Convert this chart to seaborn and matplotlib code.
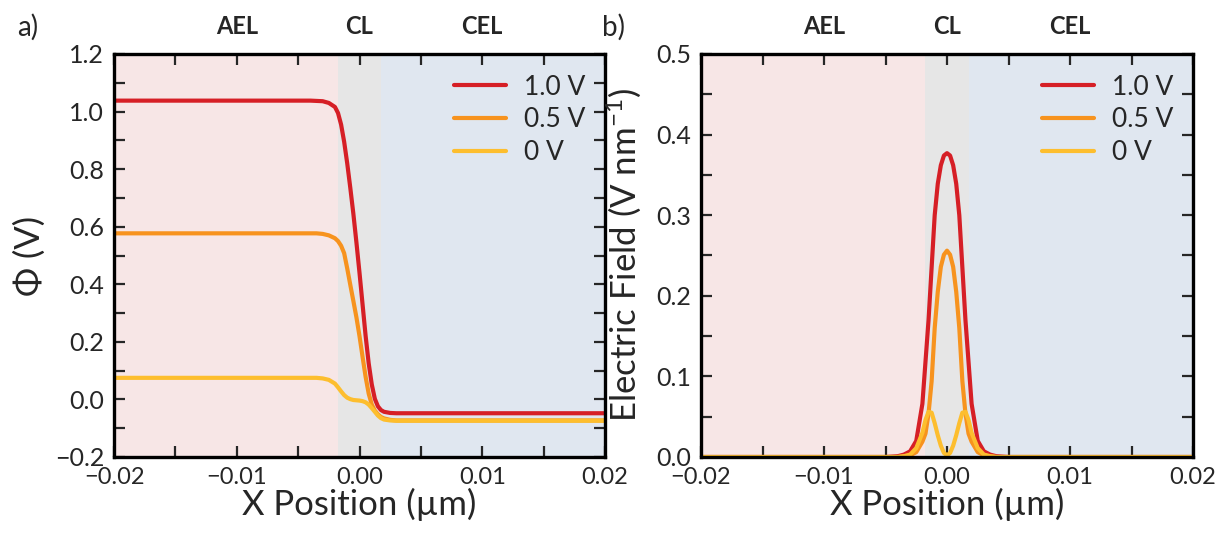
import numpy as np
import pandas as pd
import seaborn as sns
import matplotlib
matplotlib.use("Agg")
import matplotlib.pyplot as plt
from matplotlib.ticker import MultipleLocator, FuncFormatter
import matplotlib.transforms as mtransforms

# ---------------- data ----------------
x_um = [-0.02, -0.005, -0.004, -0.0035, -0.003, -0.0025, -0.002, -0.00175,
        -0.0015, -0.00125, -0.001, -0.00075, -0.0005, -0.00025, 0.0,
        0.00025, 0.0005, 0.00075, 0.001, 0.00125, 0.0015, 0.00175, 0.002,
        0.0025, 0.003, 0.0035, 0.004, 0.005, 0.02]

bias_labels = ["1.0 V", "0.5 V", "0 V"]

phi_10 = [1.038, 1.038, 1.038, 1.037, 1.036, 1.030, 1.016, 0.995,
          0.955, 0.895, 0.820, 0.735, 0.645, 0.545, 0.440,
          0.330, 0.220, 0.125, 0.052, 0.002, -0.024, -0.037, -0.043,
          -0.047, -0.048, -0.048, -0.048, -0.048, -0.048]
phi_05 = [0.577, 0.577, 0.577, 0.577, 0.575, 0.570, 0.560, 0.550,
          0.534, 0.508, 0.455, 0.398, 0.342, 0.285, 0.220,
          0.148, 0.078, 0.020, -0.018, -0.039, -0.052, -0.061, -0.066,
          -0.071, -0.073, -0.073, -0.073, -0.073, -0.073]
phi_00 = [0.075, 0.075, 0.075, 0.075, 0.073, 0.068, 0.055, 0.042,
          0.028, 0.015, 0.006, 0.001, -0.002, -0.003, -0.004,
          -0.006, -0.010, -0.018, -0.030, -0.043, -0.056, -0.065, -0.070,
          -0.073, -0.074, -0.074, -0.074, -0.074, -0.074]

ef_10 = [0.0, 0.0, 0.001, 0.003, 0.007, 0.020, 0.066, 0.118,
         0.170, 0.235, 0.300, 0.339, 0.362, 0.374, 0.377,
         0.374, 0.362, 0.339, 0.300, 0.235, 0.170, 0.118, 0.066,
         0.020, 0.007, 0.003, 0.001, 0.0, 0.0]
ef_05 = [0.0, 0.0, 0.0, 0.001, 0.002, 0.006, 0.019, 0.029,
         0.054, 0.094, 0.160, 0.205, 0.236, 0.251, 0.256,
         0.251, 0.236, 0.205, 0.160, 0.094, 0.054, 0.029, 0.019,
         0.006, 0.002, 0.001, 0.0, 0.0, 0.0]
ef_00 = [0.0, 0.0, 0.0, 0.001, 0.003, 0.011, 0.030, 0.046,
         0.056, 0.055, 0.042, 0.027, 0.014, 0.005, 0.002,
         0.005, 0.014, 0.027, 0.042, 0.055, 0.056, 0.046, 0.030,
         0.011, 0.003, 0.001, 0.0, 0.0, 0.0]

region_names = ["AEL", "CL", "CEL"]
region_label_x = [-0.01, 0.0, 0.01]
region_edges = [-0.02, -0.00175, 0.00175, 0.02]

# ---------------- styling ----------------
colors = ["#D61F26", "#F7931E", "#FDBE2E"]
region_colors = ["#F7E6E6", "#E6E6E6", "#E0E7F0"]

sns.set_style("ticks")
plt.rcParams["font.family"] = ["Lato", "DejaVu Sans"]
plt.rcParams["mathtext.fontset"] = "custom"
plt.rcParams["mathtext.rm"] = "Lato"
plt.rcParams["mathtext.it"] = "Lato:italic"
plt.rcParams["axes.unicode_minus"] = True


def fmt(decimals):
    def f(v, pos):
        if abs(v) < 1e-12:
            v = 0.0
        return f"{v:.{decimals}f}".replace("-", "\u2212")
    return FuncFormatter(f)


rows = []
for lab, p, e in zip(bias_labels, [phi_10, phi_05, phi_00], [ef_10, ef_05, ef_00]):
    for xv, pv, ev in zip(x_um, p, e):
        rows.append({"x": xv, "phi": pv, "ef": ev, "bias": lab})
df = pd.DataFrame(rows)

fig = plt.figure(figsize=(12.17, 5.35), dpi=100)
ax1 = fig.add_axes([114 / 1217, 1 - 457 / 535, (605 - 114) / 1217, (457 - 54) / 535])
ax2 = fig.add_axes([701 / 1217, 1 - 457 / 535, (1193 - 701) / 1217, (457 - 54) / 535])

for ax, col, ylim, ymaj, ymin, ylabel in [
    (ax1, "phi", (-0.2, 1.2), 0.2, 0.1, "Φ (V)"),
    (ax2, "ef", (0.0, 0.5), 0.1, 0.05, r"Electric Field (V nm$^{-1}$)"),
]:
    for i in range(3):
        ax.axvspan(region_edges[i], region_edges[i + 1], color=region_colors[i],
                   lw=0, zorder=0)
    sns.lineplot(data=df, x="x", y=col, hue="bias", hue_order=bias_labels,
                 palette=colors, linewidth=3.0, ax=ax, sort=False, zorder=3)
    ax.set_xlim(-0.02, 0.02)
    ax.set_ylim(*ylim)
    ax.xaxis.set_major_locator(MultipleLocator(0.01))
    ax.xaxis.set_minor_locator(MultipleLocator(0.005))
    ax.yaxis.set_major_locator(MultipleLocator(ymaj))
    ax.yaxis.set_minor_locator(MultipleLocator(ymin))
    ax.xaxis.set_major_formatter(fmt(2))
    ax.yaxis.set_major_formatter(fmt(1))
    ax.tick_params(which="both", direction="in", top=True, right=True,
                   width=1.6, length=8)
    ax.tick_params(axis="y", labelsize=18, pad=7)
    ax.tick_params(axis="x", labelsize=17, pad=7)
    for s in ax.spines.values():
        s.set_linewidth(2.4)
        s.set_color("black")
        s.set_zorder(5)
    ax.set_xlabel("X Position (µm)", fontsize=25, labelpad=0)
    ax.set_ylabel(ylabel, fontsize=25)
    leg = ax.legend(loc="upper right", frameon=False, fontsize=19,
                    handlelength=1.95, handletextpad=0.7, labelspacing=0.3,
                    borderaxespad=0.0,
                    bbox_to_anchor=(1 - 9 / 491, 1 - 10 / 403))
    for h in leg.get_lines():
        h.set_linewidth(3.0)
    trans = mtransforms.blended_transform_factory(ax.transData, ax.transAxes)
    for name, xv in zip(region_names, region_label_x):
        ax.text(xv, 1.067, name, transform=trans, ha="center", va="center",
                fontsize=17, fontweight="bold")

ax1.yaxis.set_label_coords((46 - 114) / 491, 0.5)
ax2.yaxis.set_label_coords((643 - 701) / 492, 0.5)

fig.text(28 / 1217, 1 - 27 / 535, "a)", fontsize=20, ha="center", va="center")
fig.text(613 / 1217, 1 - 27 / 535, "b)", fontsize=20, ha="center", va="center")

fig.savefig("out.png", dpi=100)
